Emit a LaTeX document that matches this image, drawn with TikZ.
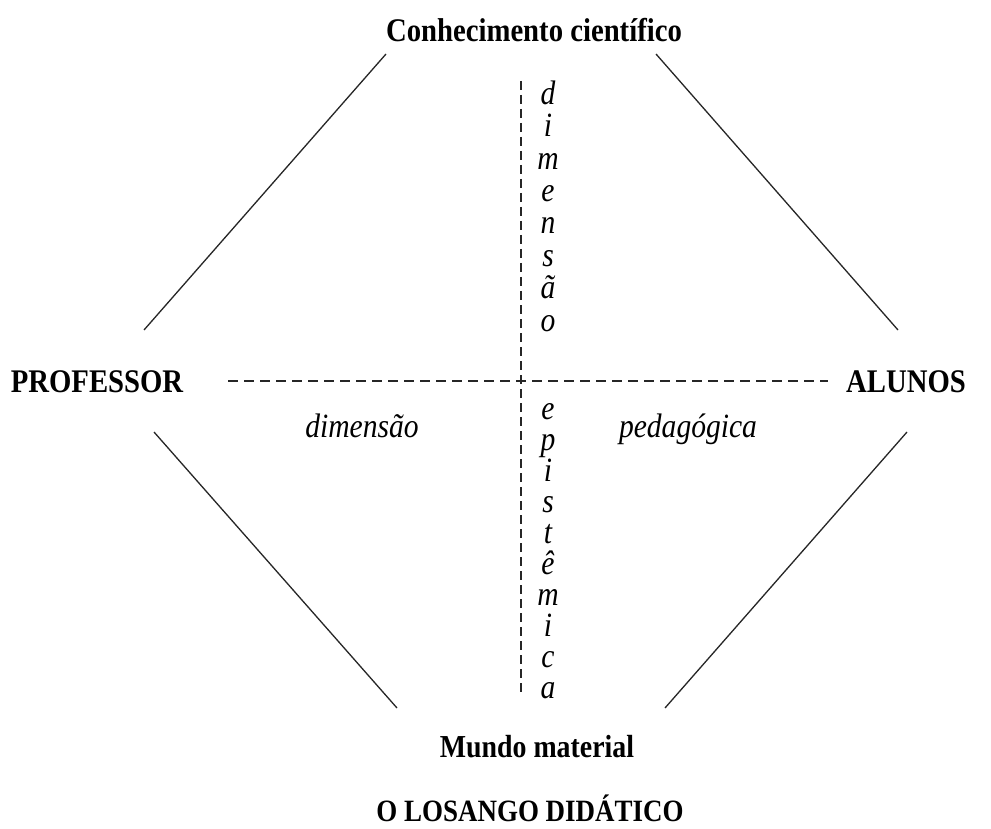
\documentclass[tikz,border=0pt]{standalone}
\usepackage{fontspec}
\setmainfont{Liberation Serif}[FakeStretch=0.87]
\begin{document}
\begin{tikzpicture}[x=1pt,y=-1pt,
  vertex/.style={font=\fontsize{33}{36}\bfseries\selectfont, inner sep=0pt},
  dimlabel/.style={font=\fontsize{34}{36}\itshape\selectfont, inner sep=0pt, anchor=base},
  vstack/.style={font=\fontsize{34}{32.4}\itshape\selectfont, inner sep=0pt, align=center},
  side/.style={line width=1.3pt, black!85},
  axis/.style={line width=1.3pt, black!85, dash pattern=on 10pt off 6pt},
  vaxis/.style={line width=1.3pt, black!85, dash pattern=on 9pt off 5pt}]
\useasboundingbox (0,0) rectangle (991,829);
\fill[white] (0,0) rectangle (991,829);
% vertices
\node[vertex] (conh) at (534,30) {Conhecimento científico};
\node[vertex] (prof) at (97,382) {PROFESSOR};
\node[vertex] (alun) at (906,382) {ALUNOS};
\node[vertex, font=\fontsize{32}{34}\bfseries\selectfont] (mundo) at (537,747) {Mundo material};
\node[vertex, font=\fontsize{31}{33}\bfseries\selectfont] (title) at (530,808) {O LOSANGO DIDÁTICO};
% side end points
\coordinate (tl1) at (386,54);
\coordinate (tl2) at (144,330);
\coordinate (tr1) at (656,54);
\coordinate (tr2) at (898,330);
\coordinate (bl1) at (154,432);
\coordinate (bl2) at (397,708);
\coordinate (br1) at (907,432);
\coordinate (br2) at (665,708);
\draw[side] (tl1) -- (tl2);
\draw[side] (tr1) -- (tr2);
\draw[side] (bl1) -- (bl2);
\draw[side] (br1) -- (br2);
% axes
\coordinate (hl) at (228,381);
\coordinate (hr) at (828,381);
\coordinate (vt) at (521,81);
\coordinate (vb) at (521,695);
\draw[axis] (hl) -- (hr);
\draw[vaxis] (vt) -- (vb);
% labels
\node[dimlabel] (dimL) at (362,437) {dimensão};
\node[dimlabel] (dimR) at (688,437) {pedagógica};
\node[vstack] (dimV) at (548,206) {d\\i\\m\\e\\n\\s\\ã\\o};
\node[vstack, font=\fontsize{34}{31}\itshape\selectfont] (epiV) at (548,551) {e\\p\\i\\s\\t\\ê\\m\\i\\c\\a};
\end{tikzpicture}
\end{document}
